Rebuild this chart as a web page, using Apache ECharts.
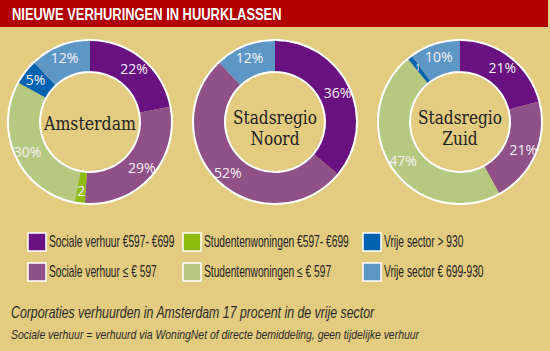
<!DOCTYPE html>
<html>
<head>
<meta charset="utf-8">
<style>
  html, body { margin: 0; padding: 0; background: #e3cb80; }
  #main { width: 550px; height: 351px; }
</style>
<script src="https://cdn.jsdelivr.net/npm/echarts@6/dist/echarts.min.js"></script>
</head>
<body>
<div id="main"></div>
<script>
// huurklassen (legenda volgorde)
const categories = [
  'Sociale verhuur €597- €699',
  'Sociale verhuur ≤ € 597',
  'Studentenwoningen €597- €699',
  'Studentenwoningen ≤ € 597',
  'Vrije sector > 930',
  'Vrije sector € 699-930',
];
const regions = ['Amsterdam', 'Stadsregio\nNoord', 'Stadsregio\nZuid'];
// percentages per regio
const amsterdam = [22, 29, 2, 30, 5, 12];
const noord = [36, 52, 0, 0, 0, 12];
const zuid = [21, 21, 0, 47, 1, 10];

const colors = ['#691180', '#8f5188', '#8fba10', '#b5c980', '#0062b1', '#5d97c6'];
const centers = [[90, 122], [275, 122], [460, 122]];
const sans = '"Liberation Sans", Arial, sans-serif';
const labelFont = '"Open Sans", sans-serif';
const serif = '"DejaVu Serif", serif';

// the original uses a condensed font: squeeze text horizontally to its width
const ctx = document.createElement('canvas').getContext('2d');
function fitScale(text, font, width) {
  ctx.font = font;
  const widest = Math.max(...text.split('\n').map((t) => ctx.measureText(t).width));
  return width / widest;
}

const chart = echarts.init(document.getElementById('main'), null, { renderer: 'svg' });

function donut(values, center) {
  return {
    type: 'pie',
    center: center,
    radius: [51, 81],
    startAngle: 90,
    silent: true,
    emphasis: { disabled: true },
    label: {
      show: true,
      position: 'inside',
      color: '#f6f0f4',
      fontFamily: labelFont,
      fontSize: 14,
      formatter: (p) => {
        if (!p.value) return '';
        return p.value < 3 ? String(p.value) : p.value + '%';
      },
    },
    labelLine: { show: false },
    data: values.map((v, i) => ({
      name: categories[i],
      value: v,
      itemStyle: { color: colors[i] },
      label: v < 2 ? { fontSize: 9 } : {},
    })),
  };
}

function ring(center, r) {
  return {
    type: 'pie',
    center: center,
    radius: r,
    silent: true,
    emphasis: { disabled: true },
    label: { show: false },
    labelLine: { show: false },
    itemStyle: { color: '#ffffff' },
    data: [{ value: 1, name: 'ring' }],
  };
}

const series = [];
[amsterdam, noord, zuid].forEach((vals, i) => {
  series.push(ring(centers[i], [80.5, 83]));
  series.push(ring(centers[i], [49, 51.5]));
  series.push(donut(vals, centers[i]));
});

// legenda: 3 kolommen x 2 rijen
const legendBoxX = [28, 183, 363];
const legendTextX = [49, 204, 384];
const legendY = [233, 263];
const legendFont = '16px ' + sans;
const legendScale = fitScale(categories[2], legendFont, 145);
const legend = [];
categories.forEach((name, i) => {
  const col = Math.floor(i / 2);
  const row = i % 2;
  legend.push({
    type: 'rect',
    shape: { x: legendBoxX[col], y: legendY[row], width: 18, height: 18 },
    style: { fill: colors[i], stroke: '#ffffff', lineWidth: 1.5 },
  });
  legend.push({
    type: 'text',
    x: legendTextX[col],
    y: legendY[row] + 9,
    scaleX: legendScale,
    style: {
      text: name,
      fill: '#222',
      font: legendFont,
      textVerticalAlign: 'middle',
    },
  });
});

const titleText = 'NIEUWE VERHURINGEN IN HUURKLASSEN';
const titleFont = 'bold 17px ' + sans;
const note1 = 'Corporaties verhuurden in Amsterdam 17 procent in de vrije sector';
const note1Font = 'italic 16px ' + sans;
const note2 = 'Sociale verhuur = verhuurd via WoningNet of directe bemiddeling, geen tijdelijke verhuur';
const note2Font = 'italic 13px ' + sans;
const regionFont = '18px ' + serif;
const regionWidths = [92, 84, 84];

chart.setOption({
  backgroundColor: '#e3cb80',
  animation: false,
  graphic: [
    {
      type: 'rect',
      shape: { x: 0, y: 0, width: 548, height: 27 },
      style: { fill: '#b20000' },
    },
    {
      type: 'text',
      x: 12,
      y: 14,
      scaleX: fitScale(titleText, titleFont, 270),
      style: {
        text: titleText,
        fill: '#ffffff',
        font: titleFont,
        textVerticalAlign: 'middle',
      },
    },
    ...regions.map((name, i) => ({
      type: 'text',
      x: centers[i][0],
      y: centers[i][1] + (name.includes('\n') ? 6 : 2),
      scaleX: fitScale(name, regionFont, regionWidths[i]),
      style: {
        text: name,
        fill: '#222',
        font: regionFont,
        lineHeight: 21,
        textAlign: 'center',
        textVerticalAlign: 'middle',
      },
    })),
    ...legend,
    {
      type: 'text',
      x: 11,
      y: 312,
      scaleX: fitScale(note1, note1Font, 364),
      style: {
        text: note1,
        fill: '#2a2a2a',
        font: note1Font,
        textVerticalAlign: 'middle',
      },
    },
    {
      type: 'text',
      x: 11,
      y: 334,
      scaleX: fitScale(note2, note2Font, 409),
      style: {
        text: note2,
        fill: '#2a2a2a',
        font: note2Font,
        textVerticalAlign: 'middle',
      },
    },
  ],
  series: series,
});
</script>
</body>
</html>
